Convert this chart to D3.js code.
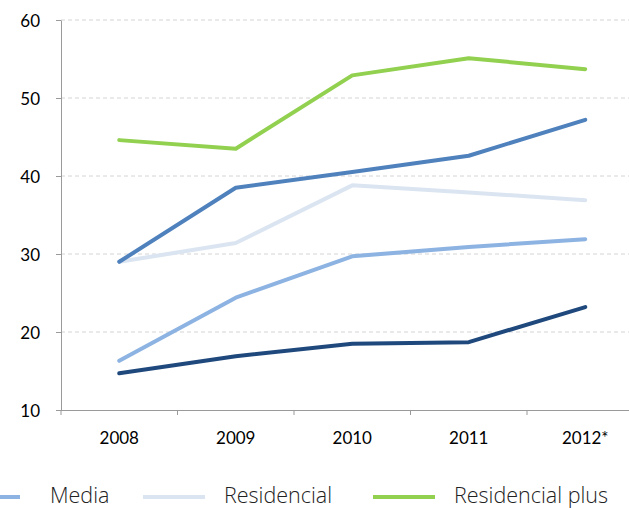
<!DOCTYPE html>
<html>
<head>
<meta charset="utf-8">
<script src="https://cdn.jsdelivr.net/npm/d3@7"></script>
<style>
  body { margin: 0; background: #fff; }
  svg { display: block; }
</style>
</head>
<body>
<svg id="chart" width="629" height="508"></svg>
<script>
const years = ['2008', '2009', '2010', '2011', '2012*'];
const yTicks = [10, 20, 30, 40, 50, 60];

// series values
const navyValues = [14.7, 16.9, 18.5, 18.7, 23.2];
const mediaValues = [16.3, 24.4, 29.7, 30.9, 31.9];
const residencialValues = [29.0, 31.4, 38.8, 37.9, 36.9];
const blueValues = [29.0, 38.5, 40.5, 42.6, 47.2];
const plusValues = [44.6, 43.5, 52.9, 55.1, 53.7];

const legendNames = ['Media', 'Residencial', 'Residencial plus'];

const series = [
  { values: navyValues, color: '#1f497d' },
  { values: mediaValues, color: '#8db3e2', label: 'Media' },
  { values: residencialValues, color: '#dbe5f1', label: 'Residencial' },
  { values: blueValues, color: '#4f81bd' },
  { values: plusValues, color: '#92d050', label: 'Residencial plus' }
];

const margin = { top: 20, left: 61 };
const bandWidth = 116.5;
const plotHeight = 390;

const svg = d3.select('#chart');

const xScale = d3
  .scaleBand()
  .domain(years)
  .range([margin.left, margin.left + bandWidth * years.length]);
const yScale = d3
  .scaleLinear()
  .domain([10, 60])
  .range([margin.top + plotHeight, margin.top]);

/* grid lines */
svg
  .append('g')
  .selectAll('line')
  .data(yTicks.slice(1))
  .enter()
  .append('line')
  .attr('x1', margin.left)
  .attr('x2', 629)
  .attr('y1', (d) => yScale(d))
  .attr('y2', (d) => yScale(d))
  .attr('stroke', '#d4d4d4')
  .attr('stroke-width', 1)
  .attr('stroke-dasharray', '4,3');

/* left axis */
const leftAxis = d3.axisLeft(yScale).tickValues(yTicks).tickSize(5).tickSizeOuter(0);
const gy = svg
  .append('g')
  .attr('transform', `translate(${margin.left}, 0)`)
  .call(leftAxis);
gy.select('.domain').attr('stroke', '#9a9a9a');
gy.selectAll('.tick line').attr('stroke', '#9a9a9a');
gy.selectAll('.tick text')
  .attr('x', -21)
  .attr('dy', '0.36em')
  .attr('fill', '#000')
  .attr('font-family', 'Lato, sans-serif')
  .attr('font-size', 17);

/* bottom axis */
const bottomAxis = d3.axisBottom(xScale).tickSize(0).tickSizeOuter(0);
const gx = svg
  .append('g')
  .attr('transform', `translate(0, ${margin.top + plotHeight})`)
  .call(bottomAxis);
gx.select('.domain').attr('stroke', '#9a9a9a').attr('d', `M${margin.left},0.5H629`);
gx.selectAll('.tick text')
  .attr('y', 22)
  .attr('dy', '0.71em')
  .attr('fill', '#000')
  .attr('font-family', 'Lato, sans-serif')
  .attr('font-size', 17);

/* tick marks between categories */
svg
  .append('g')
  .selectAll('line')
  .data(years)
  .enter()
  .append('line')
  .attr('x1', (d) => xScale(d))
  .attr('x2', (d) => xScale(d))
  .attr('y1', margin.top + plotHeight)
  .attr('y2', margin.top + plotHeight + 5)
  .attr('stroke', '#9a9a9a');

/* lines */
const line = d3
  .line()
  .x((d, i) => xScale(years[i]) + xScale.bandwidth() / 2)
  .y((d) => yScale(d));

svg
  .append('g')
  .selectAll('path')
  .data(series)
  .enter()
  .append('path')
  .attr('fill', 'none')
  .attr('stroke', (d) => d.color)
  .attr('stroke-width', 4)
  .attr('stroke-linejoin', 'round')
  .attr('stroke-linecap', 'round')
  .attr('d', (d) => line(d.values));

/* legend, running off the left edge as in the picture */
const legendX = [-42, 143, 373];
const legendTextX = [92, 81, 81];
const legend = svg
  .append('g')
  .selectAll('g')
  .data(legendNames)
  .enter()
  .append('g')
  .attr('transform', (d, i) => `translate(${legendX[i]}, 497)`);

legend
  .append('line')
  .attr('x1', 0)
  .attr('x2', 62)
  .attr('stroke', (d) => series.find((s) => s.label === d).color)
  .attr('stroke-width', 4);

legend
  .append('text')
  .attr('x', (d, i) => legendTextX[i])
  .attr('y', 6)
  .attr('fill', '#222')
  .attr('font-family', '"Open Sans", sans-serif')
  .attr('font-weight', 300)
  .attr('font-size', 21.5)
  .text((d) => d);
</script>
</body>
</html>
